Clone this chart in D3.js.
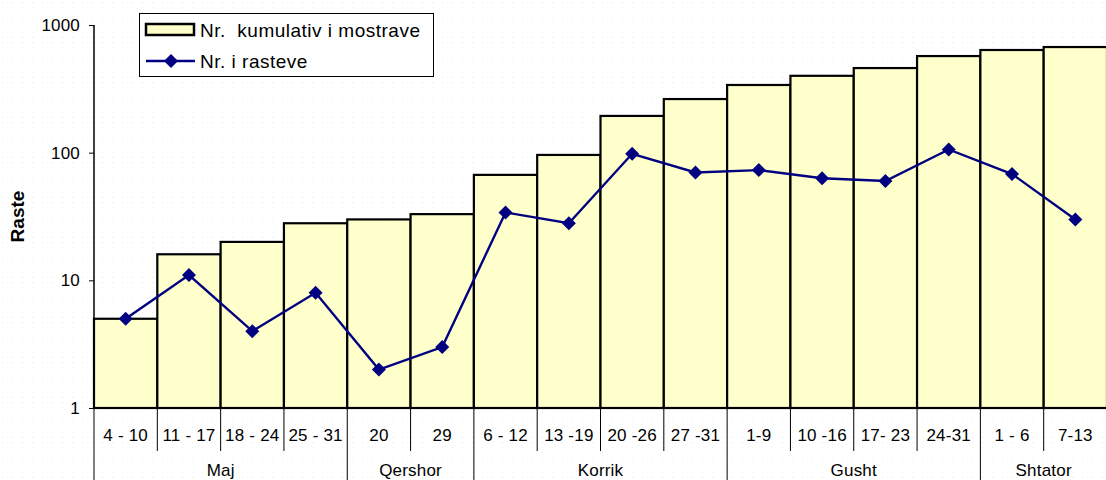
<!DOCTYPE html>
<html><head><meta charset="utf-8">
<script src="https://cdn.jsdelivr.net/npm/d3@7"></script>
<style>
body{margin:0;background:#fff;}
svg{display:block;font-family:"Liberation Sans",Arial,sans-serif;}
</style></head>
<body><svg id="chart" width="1106" height="480"></svg>
<script>
const weeks = ["4 - 10","11 - 17","18 - 24","25 - 31","20","29","6 - 12","13 -19","20 -26","27 -31","1-9","10 -16","17- 23","24-31","1 - 6","7-13"];
const months = ["Maj","Qershor","Korrik","Gusht","Shtator"];
const monthSpans = [4,2,4,4,2];
const cumulative = [5,16,20,28,30,33,67,96,194,263,339,400,460,571,637,672];
const cases = [5,11,4,8,2,3,34,28,98,70,73,63,60,106,68,30];
const yTicks = [1,10,100,1000];
const seriesNames = ["Nr.  kumulativ i mostrave","Nr. i rasteve"];

(function(){
const svg = d3.select("#chart");
const W = 1106, H = 480;
const mL = 94, mR = 1107, mT = 25, mB = 408;
const fs = 17, ls = "0.2px";

// faint dotted background
const defs = svg.append("defs");
const pat = defs.append("pattern").attr("id","dots").attr("width",10).attr("height",5).attr("patternUnits","userSpaceOnUse");
pat.append("rect").attr("x",2).attr("y",2).attr("width",1).attr("height",1).attr("fill","#e6f5e6");
svg.append("rect").attr("width",W).attr("height",H).attr("fill","url(#dots)");

const x = d3.scaleBand().domain(weeks.map((d,i)=>i)).range([mL,mR]).padding(0);
const y = d3.scaleLog().domain([1,1000]).range([mB,mT]);

// bars
svg.append("g").selectAll("rect").data(cumulative).join("rect")
  .attr("x",(d,i)=>x(i)).attr("width",x.bandwidth())
  .attr("y",d=>y(d)).attr("height",d=>mB-y(d))
  .attr("fill","#FFFFCC").attr("stroke","#000").attr("stroke-width",2.2);

// y axis
const yAxis = d3.axisLeft(y).tickValues(yTicks).tickFormat(d3.format("d")).tickSize(5).tickPadding(9);
const ga = svg.append("g").attr("transform",`translate(${mL},0)`).call(yAxis);
ga.select(".domain").attr("stroke","#000").attr("stroke-width",1.5).attr("d",`M0,${mT}V${mB}`);
ga.selectAll(".tick line").attr("stroke","#000");
ga.selectAll(".tick text").attr("font-size",fs).attr("letter-spacing",ls).attr("fill","#000").attr("font-family","Liberation Sans, Arial, sans-serif");

// y label
svg.append("text").attr("transform",`translate(24,${(mT+mB)/2}) rotate(-90)`)
  .attr("text-anchor","middle").attr("font-weight","bold").attr("font-size",19).text("Raste");

// x axis baseline
svg.append("line").attr("x1",mL).attr("x2",mR).attr("y1",mB).attr("y2",mB).attr("stroke","#000").attr("stroke-width",1.5);

// week labels + ticks
const gx = svg.append("g");
gx.selectAll("text.w").data(weeks).join("text").attr("class","w")
  .attr("x",(d,i)=>x(i)+x.bandwidth()/2).attr("y",441).attr("text-anchor","middle")
  .attr("font-size",fs).attr("letter-spacing",ls).text(d=>d);
let starts = [0]; monthSpans.forEach((s,i)=>starts.push(starts[i]+s));
const groupStarts = new Set(starts);
d3.range(weeks.length+1).forEach(i=>{
  const xx = i<weeks.length ? x(i) : mR;
  const isGroup = groupStarts.has(i);
  gx.append("line").attr("x1",xx).attr("x2",xx).attr("y1",mB).attr("y2",isGroup?480:451)
    .attr("stroke","#000").attr("stroke-width",1);
});
gx.selectAll("text.m").data(months).join("text").attr("class","m")
  .attr("x",(d,i)=>{const a=x(starts[i]); const b=starts[i+1]<weeks.length?x(starts[i+1]):mR; return (a+b)/2;})
  .attr("y",476).attr("text-anchor","middle").attr("font-size",fs).attr("letter-spacing",ls).text(d=>d);

// line
const line = d3.line().x((d,i)=>x(i)+x.bandwidth()/2).y(d=>y(d));
svg.append("path").datum(cases).attr("d",line).attr("fill","none").attr("stroke","#000080").attr("stroke-width",2.4);
const diamond = "M0,-7L7,0L0,7L-7,0Z";
svg.append("g").selectAll("path").data(cases).join("path")
  .attr("transform",(d,i)=>`translate(${x(i)+x.bandwidth()/2},${y(d)})`)
  .attr("d",diamond).attr("fill","#000080");

// legend
const lg = svg.append("g");
lg.append("rect").attr("x",139.5).attr("y",13.5).attr("width",294).attr("height",63).attr("fill","#fff").attr("stroke","#000").attr("stroke-width",1);
lg.append("rect").attr("x",146).attr("y",24).attr("width",48).attr("height",11).attr("fill","#FFFFCC").attr("stroke","#000").attr("stroke-width",2.5);
lg.append("text").attr("x",200).attr("y",37).attr("font-size",19).attr("letter-spacing","0.5px").attr("xml:space","preserve").text(seriesNames[0]);
lg.append("line").attr("x1",146).attr("x2",195).attr("y1",61).attr("y2",61).attr("stroke","#000080").attr("stroke-width",2.4);
lg.append("path").attr("transform","translate(171,61)").attr("d",diamond).attr("fill","#000080");
lg.append("text").attr("x",200).attr("y",68).attr("font-size",19).attr("letter-spacing","0.5px").text(seriesNames[1]);
})();
</script></body></html>
